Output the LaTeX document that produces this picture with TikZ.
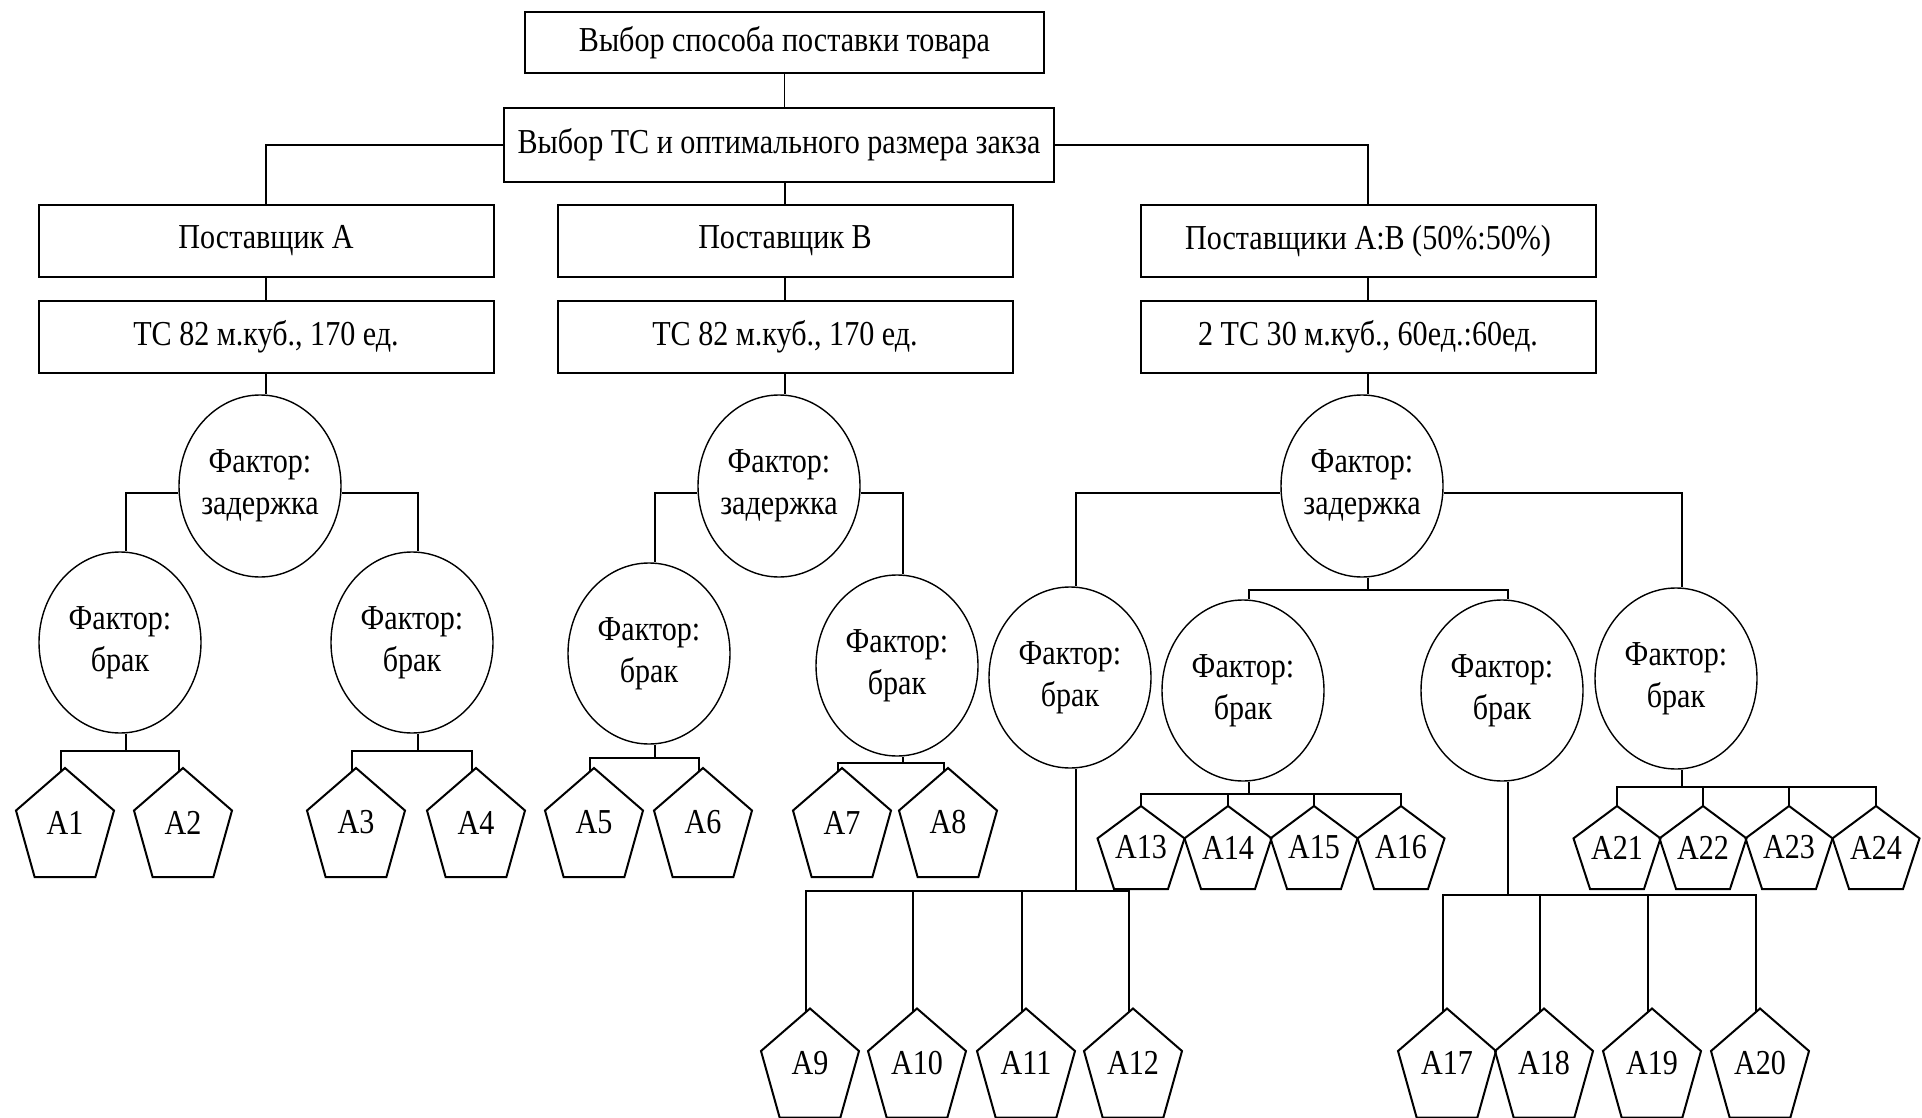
\documentclass[tikz,border=0pt]{standalone}
\usepackage{fontspec}
\setmainfont{Liberation Serif}[FakeStretch=0.86]
\usetikzlibrary{calc,shapes.geometric}
\begin{document}
\begin{tikzpicture}[x=1pt,y=-1pt,
  every node/.style={font=\fontsize{35}{42}\selectfont, text=black},
  box/.style={draw, line width=2pt, rectangle, minimum width=455pt, minimum height=72pt, inner sep=2pt},
  zad/.style={draw, ellipse, line width=1.4pt, minimum width=162pt, minimum height=182pt, inner xsep=-4pt, inner ysep=0pt, align=center},
  brak/.style={zad, minimum height=181pt},
  big/.style={rectangle, minimum width=98pt, minimum height=109pt, inner sep=0pt, outer sep=0pt},
  small/.style={big, minimum width=87pt, minimum height=83pt},
  conn/.style={line width=1.6pt},
  pent/.style={line width=2pt}
]
\fill[white] (0,0) rectangle (1922,1118);
\useasboundingbox (0,0) rectangle (1922,1118);

% boxes
\node[box, minimum width=519pt, minimum height=61pt] (top) at (784.5,43) {Выбор способа поставки товара};
\node[box, minimum width=550pt, minimum height=74pt] (sel) at (779,145) {Выбор ТС и оптимального размера закза};
\node[box] (pA) at (266,241) {Поставщик А};
\node[box] (pB) at (785,241) {Поставщик В};
\node[box] (pAB) at (1368,241) {Поставщики А:В (50\%:50\%)};
\node[box] (tA) at (266,337) {ТС 82 м.куб., 170 ед.};
\node[box] (tB) at (785,337) {ТС 82 м.куб., 170 ед.};
\node[box] (tAB) at (1368,337) {2 ТС 30 м.куб., 60ед.:60ед.};

% delay factors
\node[zad] (zA) at (260,486) {Фактор:\\задержка};
\node[zad] (zB) at (779,486) {Фактор:\\задержка};
\node[zad] (zC) at (1362,486) {Фактор:\\задержка};

% defect factors
\node[brak] (bA) at (120,642.5) {Фактор:\\брак};
\node[brak] (bB) at (412,642.5) {Фактор:\\брак};
\node[brak] (bC) at (649,653.5) {Фактор:\\брак};
\node[brak] (bD) at (897,665.5) {Фактор:\\брак};
\node[brak] (bE) at (1070,677.5) {Фактор:\\брак};
\node[brak] (bF) at (1243,690.5) {Фактор:\\брак};
\node[brak] (bG) at (1502,690.5) {Фактор:\\брак};
\node[brak] (bH) at (1676,678.5) {Фактор:\\брак};

% alternatives
\node[big] (A1) at (65,822.5) {A1};
\node[big] (A2) at (183,822.5) {A2};
\node[big] (A3) at (356,822.5) {A3};
\node[big] (A4) at (476,822.5) {A4};
\node[big] (A5) at (594,822.5) {A5};
\node[big] (A6) at (703,822.5) {A6};
\node[big] (A7) at (842,822.5) {A7};
\node[big] (A8) at (948,822.5) {A8};
\node[big] (A9) at (810,1063) {A9};
\node[big] (A10) at (917,1063) {A10};
\node[big] (A11) at (1026,1063) {A11};
\node[big] (A12) at (1133,1063) {A12};
\node[small] (A13) at (1141,847.5) {A13};
\node[small] (A14) at (1228,847.5) {A14};
\node[small] (A15) at (1314,847.5) {A15};
\node[small] (A16) at (1401,847.5) {A16};
\node[big] (A17) at (1447,1063) {A17};
\node[big] (A18) at (1544,1063) {A18};
\node[big] (A19) at (1652,1063) {A19};
\node[big] (A20) at (1760,1063) {A20};
\node[small] (A21) at (1617,847.5) {A21};
\node[small] (A22) at (1703,847.5) {A22};
\node[small] (A23) at (1789,847.5) {A23};
\node[small] (A24) at (1876,847.5) {A24};

\foreach \i in {1,...,24}{
  \draw[pent] (A\i.north)
    -- ($(A\i.north west)!0.39!(A\i.south west)$)
    -- ($(A\i.south west)!0.19!(A\i.south east)$)
    -- ($(A\i.south east)!0.19!(A\i.south west)$)
    -- ($(A\i.north east)!0.39!(A\i.south east)$)
    -- cycle;
}

% connectors: upper part
\draw[conn] (top.south) -- (top.south |- sel.north);
\draw[conn] (sel.west) -| (pA.north);
\draw[conn] (pB.north |- sel.south) -- (pB.north);
\draw[conn] (sel.east) -| (pAB.north);
\draw[conn] (pA.south) -- (tA.north);
\draw[conn] (pB.south) -- (tB.north);
\draw[conn] (pAB.south) -- (tAB.north);
\draw[conn] (tA.south) -- (tA.south |- zA.north);
\draw[conn] (tB.south) -- (tB.south |- zB.north);
\draw[conn] (tAB.south) -- (tAB.south |- zC.north);

% delay -> defect
\draw[conn] ([yshift=-7pt]zA.west) -| ([xshift=6pt]bA.north);
\draw[conn] ([yshift=-7pt]zA.east) -| ([xshift=6pt]bB.north);
\draw[conn] ([yshift=-7pt]zB.west) -| ([xshift=6pt]bC.north);
\draw[conn] ([yshift=-7pt]zB.east) -| ([xshift=6pt]bD.north);
\draw[conn] ([yshift=-7pt]zC.west) -| ([xshift=6pt]bE.north);
\draw[conn] ([yshift=-7pt]zC.east) -| ([xshift=6pt]bH.north);
\draw[conn] ([xshift=6pt]zC.south) -- ++(0,12) coordinate (jZ);
\draw[conn] (jZ) -| ([xshift=6pt]bF.north);
\draw[conn] (jZ) -| ([xshift=6pt]bG.north);

% defect -> alternatives
\tikzset{drop/.style={xshift=-4pt,yshift=-3pt}}
\draw[conn] ([xshift=6pt]bA.south) -- ++(0,17) coordinate (jA);
\draw[conn] (jA) -| ([drop]A1.north);
\draw[conn] (jA) -| ([drop]A2.north);
\draw[conn] ([xshift=6pt]bB.south) -- ++(0,17) coordinate (jB);
\draw[conn] (jB) -| ([drop]A3.north);
\draw[conn] (jB) -| ([drop]A4.north);
\draw[conn] ([xshift=6pt]bC.south) -- ++(0,13) coordinate (jC);
\draw[conn] (jC) -| ([drop]A5.north);
\draw[conn] (jC) -| ([drop]A6.north);
\draw[conn] ([xshift=6pt]bD.south) -- ++(0,6) coordinate (jD);
\draw[conn] (jD) -| ([drop]A7.north);
\draw[conn] (jD) -| ([drop]A8.north);
\draw[conn] ([xshift=6pt]bE.south) -- ++(0,122) coordinate (jE);
\foreach \i in {9,10,11,12} \draw[conn] (jE) -| ([drop]A\i.north);
\draw[conn] ([xshift=6pt]bF.south) -- ++(0,12) coordinate (jF);
\foreach \i in {13,14,15,16} \draw[conn] (jF) -| (A\i.north);
\draw[conn] ([xshift=6pt]bG.south) -- ++(0,113) coordinate (jG);
\foreach \i in {17,18,19,20} \draw[conn] (jG) -| ([drop]A\i.north);
\draw[conn] ([xshift=6pt]bH.south) -- ++(0,17) coordinate (jH);
\foreach \i in {21,22,23,24} \draw[conn] (jH) -| (A\i.north);
\end{tikzpicture}
\end{document}
